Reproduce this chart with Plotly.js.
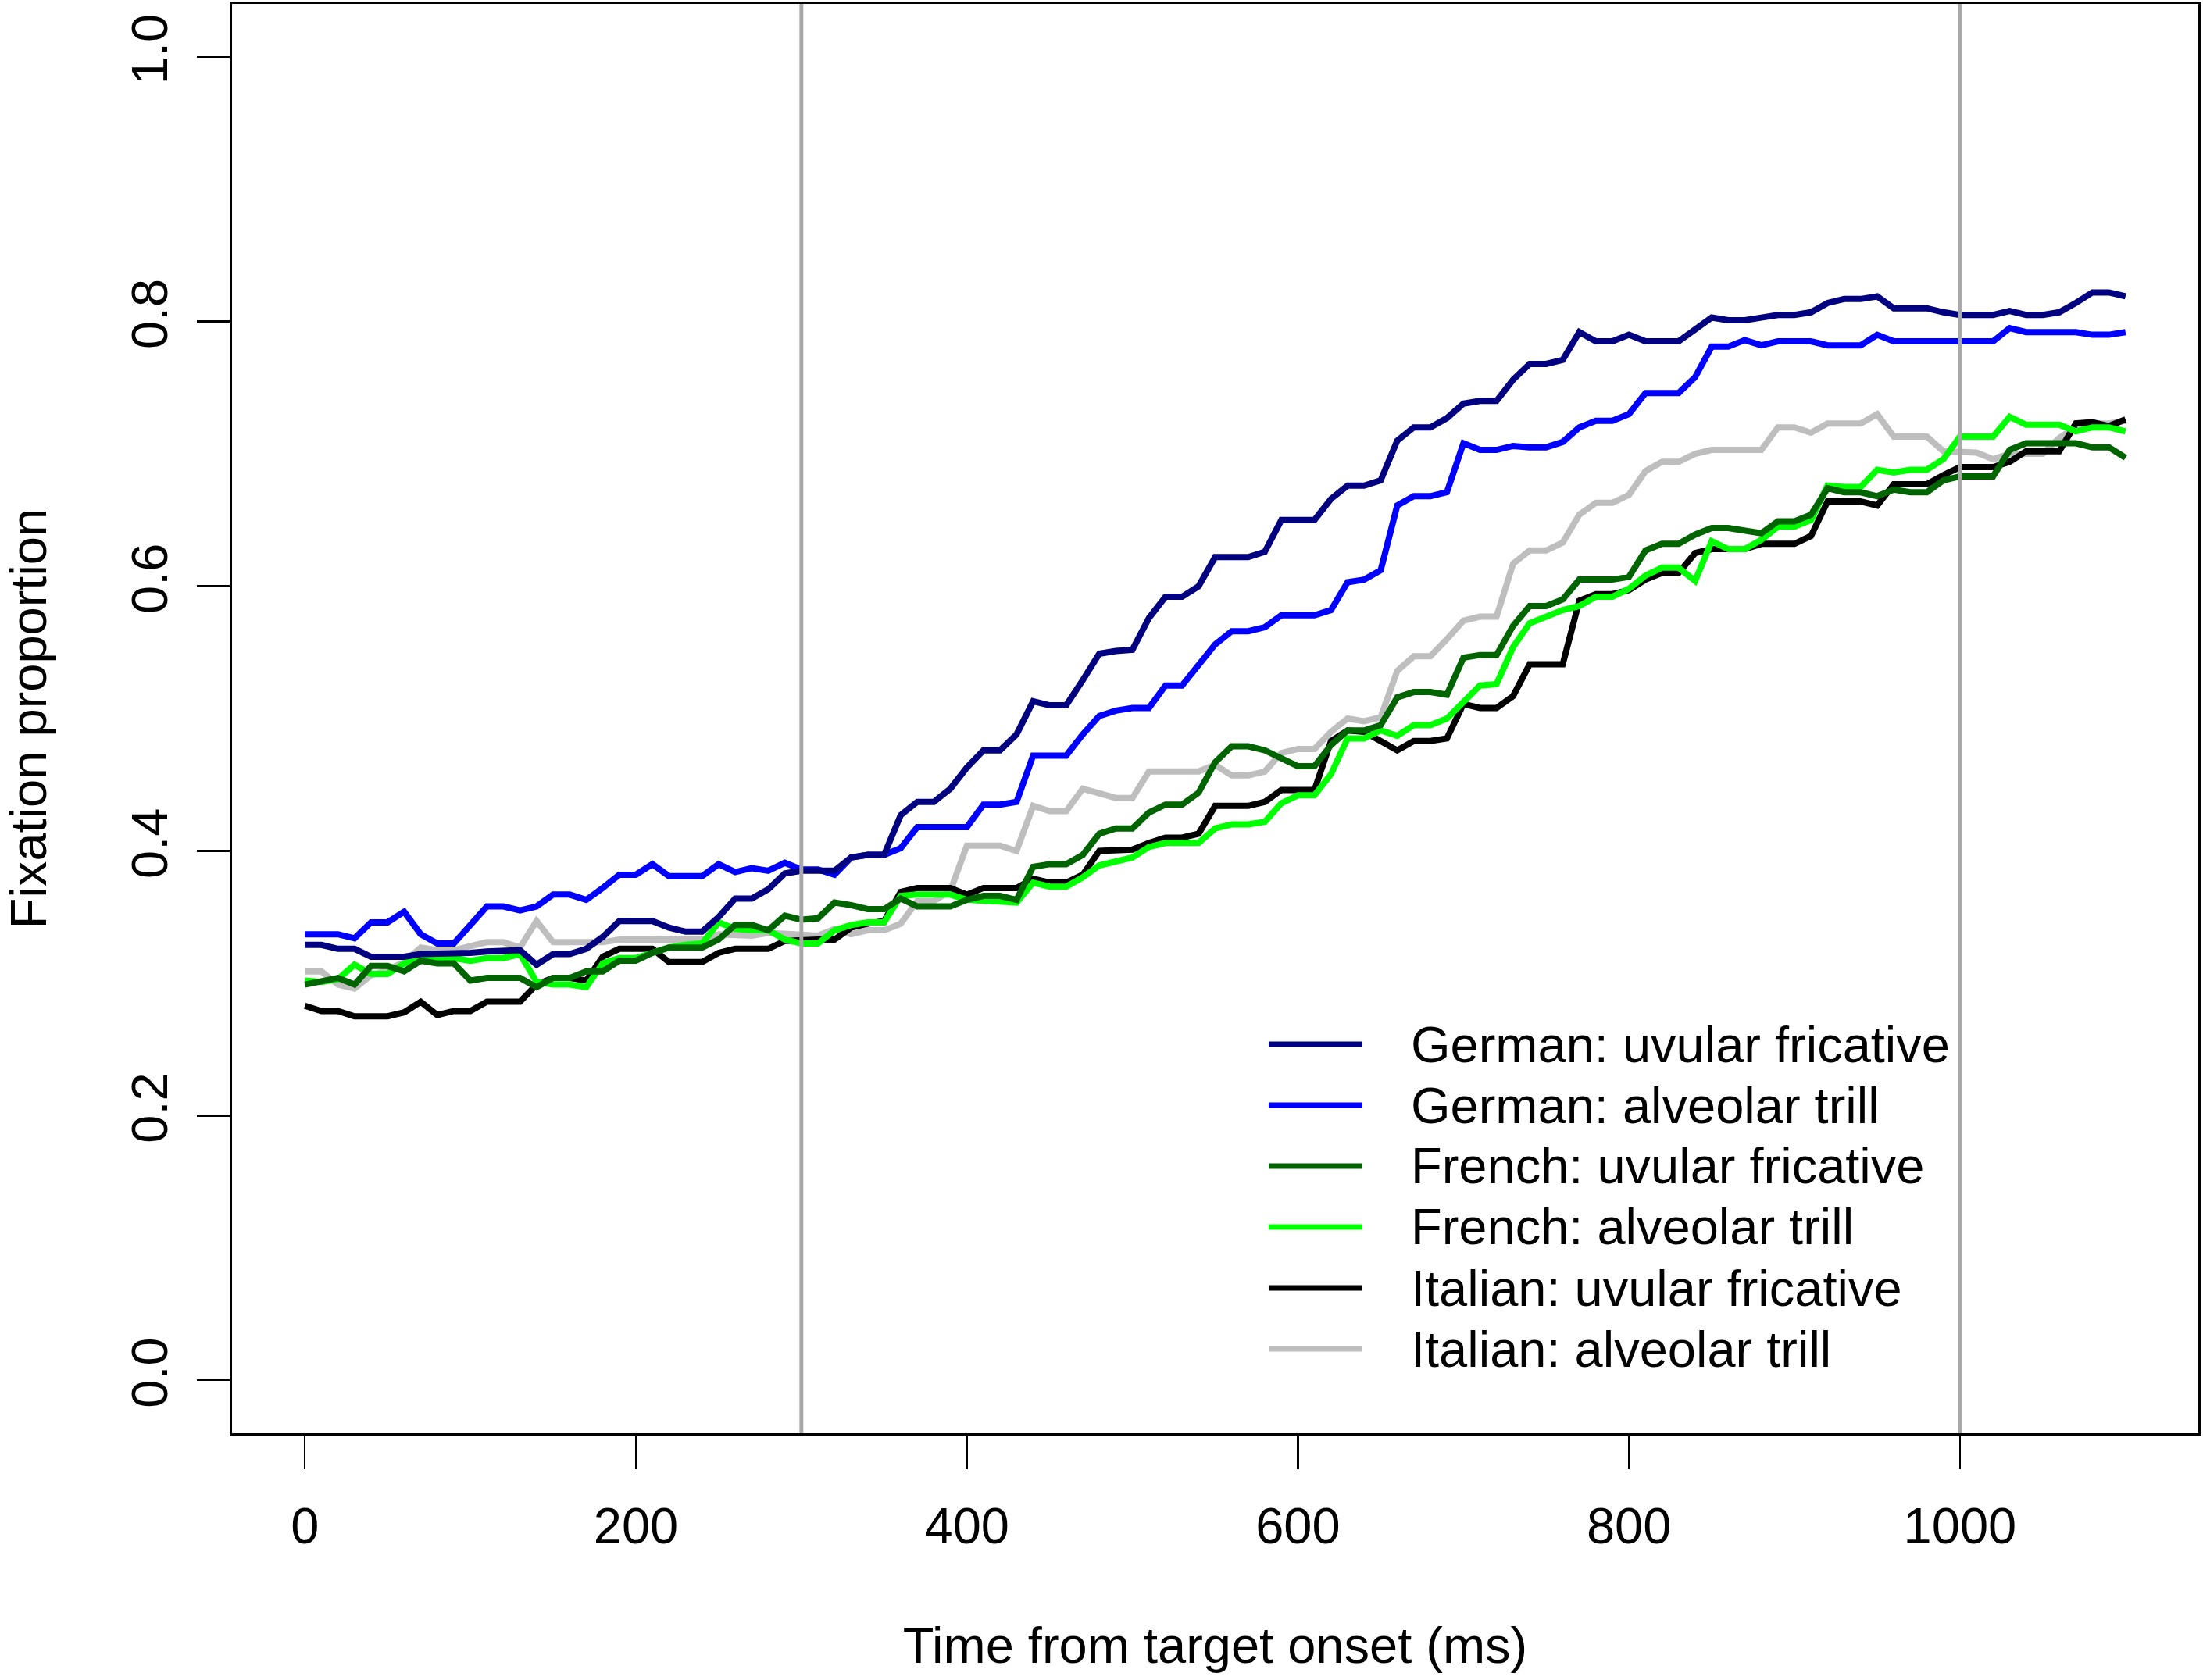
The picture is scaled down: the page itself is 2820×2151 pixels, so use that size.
<!DOCTYPE html>
<html>
<head>
<meta charset="utf-8">
<script src="https://cdn.plot.ly/plotly-3.0.1.min.js"></script>
<style>html,body{margin:0;padding:0;background:#fff;}#chart{width:2820px;height:2151px;}</style>
</head>
<body>
<div id="chart"></div>
<script>
// Time from target onset (ms)
var timeMs = [0,10,20,30,40,50,60,70,80,90,100,110,120,130,140,150,160,170,180,190,200,210,220,230,240,250,260,270,280,290,300,310,320,330,340,350,360,370,380,390,400,410,420,430,440,450,460,470,480,490,500,510,520,530,540,550,560,570,580,590,600,610,620,630,640,650,660,670,680,690,700,710,720,730,740,750,760,770,780,790,800,810,820,830,840,850,860,870,880,890,900,910,920,930,940,950,960,970,980,990,1000,1010,1020,1030,1040,1050,1060,1070,1080,1090,1100];

var germanUvular = [0.329,0.329,0.326,0.326,0.320,0.320,0.320,0.322,0.322,0.322,0.323,0.324,0.325,0.325,0.314,0.322,0.322,0.326,0.335,0.347,0.347,0.347,0.342,0.339,0.339,0.350,0.364,0.364,0.371,0.383,0.385,0.385,0.385,0.395,0.397,0.397,0.427,0.437,0.437,0.447,0.463,0.476,0.476,0.488,0.513,0.510,0.510,0.529,0.549,0.551,0.552,0.576,0.592,0.592,0.600,0.622,0.622,0.622,0.626,0.650,0.650,0.650,0.666,0.676,0.676,0.680,0.710,0.720,0.720,0.727,0.738,0.740,0.740,0.756,0.768,0.768,0.771,0.792,0.785,0.785,0.790,0.785,0.785,0.785,0.794,0.803,0.801,0.801,0.803,0.805,0.805,0.807,0.814,0.817,0.817,0.819,0.810,0.810,0.810,0.807,0.805,0.805,0.805,0.808,0.805,0.805,0.807,0.814,0.822,0.822,0.819];

var germanTrill = [0.337,0.337,0.337,0.334,0.346,0.346,0.354,0.337,0.330,0.330,0.344,0.358,0.358,0.355,0.358,0.367,0.367,0.363,0.372,0.382,0.382,0.390,0.381,0.381,0.381,0.390,0.384,0.387,0.385,0.391,0.386,0.386,0.382,0.395,0.397,0.397,0.402,0.418,0.418,0.418,0.418,0.435,0.435,0.437,0.472,0.472,0.472,0.488,0.502,0.506,0.508,0.508,0.525,0.525,0.540,0.556,0.566,0.566,0.569,0.578,0.578,0.578,0.582,0.603,0.605,0.612,0.661,0.668,0.668,0.671,0.708,0.703,0.703,0.706,0.705,0.705,0.709,0.720,0.725,0.725,0.730,0.746,0.746,0.746,0.758,0.781,0.781,0.786,0.782,0.785,0.785,0.785,0.782,0.782,0.782,0.790,0.785,0.785,0.785,0.785,0.785,0.785,0.785,0.795,0.792,0.792,0.792,0.792,0.790,0.790,0.792];

var frenchUvular = [0.299,0.301,0.304,0.299,0.313,0.313,0.309,0.317,0.315,0.315,0.302,0.304,0.304,0.304,0.297,0.304,0.304,0.309,0.309,0.317,0.317,0.323,0.327,0.327,0.327,0.333,0.344,0.344,0.340,0.351,0.348,0.349,0.361,0.359,0.356,0.356,0.364,0.358,0.358,0.358,0.363,0.366,0.366,0.363,0.388,0.390,0.390,0.397,0.413,0.417,0.417,0.429,0.435,0.435,0.444,0.467,0.479,0.479,0.476,0.470,0.464,0.464,0.480,0.491,0.491,0.495,0.516,0.520,0.520,0.518,0.546,0.548,0.548,0.570,0.585,0.585,0.590,0.605,0.605,0.605,0.607,0.627,0.632,0.632,0.639,0.644,0.644,0.642,0.640,0.649,0.649,0.654,0.674,0.671,0.671,0.668,0.673,0.671,0.671,0.680,0.683,0.683,0.683,0.703,0.708,0.708,0.708,0.708,0.705,0.705,0.697];

var frenchTrill = [0.302,0.301,0.303,0.314,0.307,0.307,0.315,0.320,0.319,0.319,0.317,0.319,0.319,0.322,0.301,0.299,0.299,0.297,0.315,0.319,0.319,0.323,0.327,0.329,0.330,0.346,0.341,0.340,0.340,0.333,0.330,0.330,0.340,0.344,0.346,0.346,0.366,0.367,0.367,0.367,0.363,0.362,0.362,0.361,0.376,0.373,0.373,0.380,0.389,0.392,0.395,0.403,0.406,0.406,0.406,0.417,0.420,0.420,0.422,0.436,0.442,0.442,0.458,0.485,0.485,0.491,0.487,0.495,0.495,0.500,0.513,0.525,0.526,0.554,0.572,0.577,0.582,0.585,0.592,0.592,0.598,0.608,0.614,0.614,0.604,0.634,0.628,0.628,0.635,0.645,0.645,0.650,0.676,0.675,0.675,0.688,0.686,0.688,0.688,0.696,0.713,0.713,0.713,0.728,0.722,0.722,0.722,0.717,0.720,0.720,0.717];

var italianUvular = [0.283,0.279,0.279,0.275,0.275,0.275,0.278,0.286,0.276,0.279,0.279,0.286,0.286,0.286,0.299,0.304,0.304,0.302,0.320,0.326,0.326,0.326,0.316,0.316,0.316,0.323,0.326,0.326,0.326,0.332,0.333,0.333,0.333,0.342,0.345,0.347,0.369,0.372,0.372,0.372,0.367,0.372,0.372,0.372,0.379,0.376,0.376,0.382,0.400,0.401,0.401,0.406,0.410,0.410,0.413,0.434,0.434,0.434,0.437,0.446,0.446,0.446,0.483,0.491,0.490,0.483,0.476,0.483,0.483,0.485,0.511,0.508,0.508,0.517,0.541,0.541,0.541,0.589,0.594,0.594,0.597,0.605,0.610,0.610,0.625,0.628,0.628,0.628,0.632,0.632,0.632,0.638,0.664,0.664,0.664,0.661,0.677,0.677,0.677,0.684,0.690,0.690,0.690,0.694,0.702,0.702,0.702,0.723,0.724,0.721,0.726];

var italianTrill = [0.309,0.309,0.299,0.296,0.306,0.310,0.316,0.327,0.325,0.325,0.328,0.331,0.331,0.327,0.347,0.331,0.331,0.331,0.331,0.333,0.333,0.333,0.333,0.333,0.333,0.337,0.336,0.336,0.338,0.337,0.336,0.336,0.341,0.337,0.340,0.340,0.345,0.362,0.362,0.370,0.404,0.404,0.404,0.400,0.434,0.430,0.430,0.447,0.443,0.440,0.440,0.460,0.460,0.460,0.460,0.465,0.457,0.457,0.460,0.474,0.477,0.477,0.490,0.500,0.498,0.501,0.536,0.547,0.547,0.560,0.574,0.577,0.577,0.617,0.627,0.627,0.633,0.654,0.663,0.663,0.669,0.687,0.694,0.694,0.700,0.703,0.703,0.703,0.703,0.720,0.720,0.716,0.723,0.723,0.723,0.730,0.713,0.713,0.713,0.702,0.701,0.701,0.696,0.700,0.700,0.700,0.712,0.720,0.723,0.723,0.725];

var seriesNames = ["German: uvular fricative","German: alveolar trill","French: uvular fricative","French: alveolar trill","Italian: uvular fricative","Italian: alveolar trill"];
var seriesColors = ["#000080","#0000FF","#006400","#00FF00","#000000","#BEBEBE"];
var seriesValues = [germanUvular, germanTrill, frenchUvular, frenchTrill, italianUvular, italianTrill];

var xTickVals = [0,200,400,600,800,1000];
var xTickLabels = ["0","200","400","600","800","1000"];
var yTickVals = [0,0.2,0.4,0.6,0.8,1.0];
var yTickLabels = ["0.0","0.2","0.4","0.6","0.8","1.0"];
var markerTimes = [300, 1000];

var FONT = "Liberation Sans, Arial, Helvetica, sans-serif";

// drawing order: grey first, navy last
var drawOrder = [5,4,3,2,1,0];
var traces = drawOrder.map(function(k){
  return {
    type: "scatter", mode: "lines",
    x: timeMs, y: seriesValues[k],
    name: seriesNames[k],
    line: {color: seriesColors[k], width: 8},
    showlegend: false, hoverinfo: "x+y+name"
  };
});

var shapes = markerTimes.map(function(t){
  return {type:"line", xref:"x", yref:"paper", x0:t, x1:t, y0:0, y1:1,
          line:{color:"#A9A9A9", width:5}, layer:"above"};
});

// Custom legend (R-style): line keys + labels in paper coordinates
var legX0 = 0.5272, legX1 = 0.5749, legTextX = 0.5987;
var legRowY = [0.2721, 0.2295, 0.1869, 0.1443, 0.1016, 0.0590];
var annotations = [];
for (var k = 0; k < seriesNames.length; k++) {
  shapes.push({type:"line", xref:"paper", yref:"paper", x0:legX0, x1:legX1, y0:legRowY[k], y1:legRowY[k],
               line:{color:seriesColors[k], width:7}, layer:"above"});
  annotations.push({xref:"paper", yref:"paper", x:legTextX, y:legRowY[k], xanchor:"left", yanchor:"middle",
                    text:seriesNames[k], showarrow:false, font:{family:FONT, size:65, color:"#000"}});
}

var axisCommon = {
  ticks:"outside", ticklen:42, tickwidth:2.5, tickcolor:"#000",
  showline:true, mirror:true, linecolor:"#000", linewidth:3.5,
  showgrid:false, zeroline:false,
  tickfont:{family:FONT, size:65, color:"#000"}
};

var layout = {
  width:2820, height:2151,
  margin:{l:297, r:6, t:5, b:316, pad:0},
  paper_bgcolor:"#fff", plot_bgcolor:"#fff",
  font:{family:FONT, size:65, color:"#000"},
  showlegend:false,
  xaxis: Object.assign({}, axisCommon, {
    range:[-44,1144], tickmode:"array", tickvals:xTickVals, ticktext:xTickLabels,
    ticklabelstandoff: 17,
    title:{text:"Time from target onset (ms)", font:{family:FONT, size:65, color:"#000"}, standoff:96}
  }),
  yaxis: Object.assign({}, axisCommon, {
    range:[-0.04,1.04], tickmode:"array", tickvals:yTickVals, ticktext:yTickLabels,
    tickangle:-90, ticklabelstandoff: 12,
    title:{text:"Fixation proportion", font:{family:FONT, size:65, color:"#000"}, standoff:100}
  }),
  shapes: shapes,
  annotations: annotations
};

Plotly.newPlot("chart", traces, layout, {displayModeBar:false, staticPlot:true});
</script>
</body>
</html>
